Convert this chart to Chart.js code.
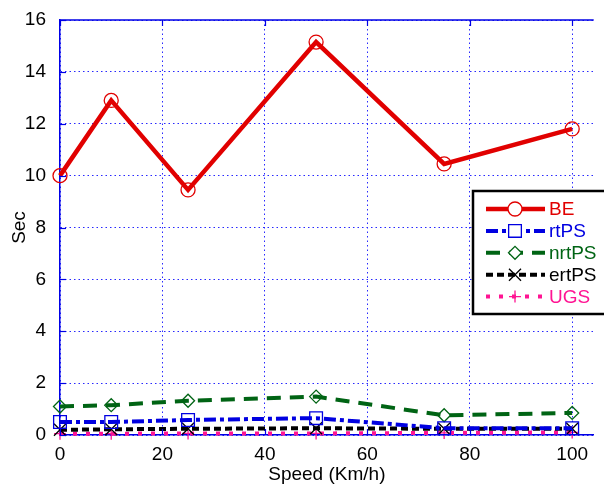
<!DOCTYPE html>
<html>
<head>
<meta charset="utf-8">
<script src="https://cdn.jsdelivr.net/npm/chart.js@4/dist/chart.umd.min.js"></script>
<style>
  html, body { margin: 0; padding: 0; background: #fff; }
  #wrap { width: 604px; height: 484px; }
</style>
</head>
<body>
<div id="wrap"><canvas id="c" width="604" height="484"></canvas></div>
<script>
// Delay per service class versus mobile speed
const speeds = [0, 10, 25, 50, 75, 100];
const beDelay = [10.0, 12.9, 9.45, 15.15, 10.45, 11.8];
const rtpsDelay = [0.5, 0.5, 0.58, 0.65, 0.26, 0.26];
const nrtpsDelay = [1.1, 1.15, 1.32, 1.48, 0.76, 0.85];
const ertpsDelay = [0.2, 0.22, 0.24, 0.26, 0.24, 0.24];
const ugsDelay = [0.05, 0.05, 0.06, 0.06, 0.08, 0.1];
const seriesNames = ['BE', 'rtPS', 'nrtPS', 'ertPS', 'UGS'];
const xTickValues = [0, 20, 40, 60, 80, 100];
const yTickValues = [0, 2, 4, 6, 8, 10, 12, 14, 16];
const xTitle = 'Speed (Km/h)';
const yTitle = 'Sec';

const FONT = "'Liberation Sans', Arial, sans-serif";
const FONT_SIZE = 19;
const AXIS_BLUE = 'rgb(0,0,230)';
const GRID_BLUE = 'rgb(40,40,255)';

const toPts = (ys) => speeds.map((x, i) => ({ x: x, y: ys[i] }));

function series(label, ys, color, width, dash, style, radius) {
  return {
    label: label,
    data: toPts(ys),
    borderColor: color,
    backgroundColor: 'rgba(0,0,0,0)',
    borderWidth: width,
    borderDash: dash,
    pointStyle: style,
    pointRadius: radius,
    pointHoverRadius: radius,
    pointBorderColor: color,
    pointBackgroundColor: 'rgba(0,0,0,0)',
    pointBorderWidth: 1.3,
    tension: 0,
    clip: false
  };
}

const datasets = [
  series(seriesNames[0], beDelay, 'rgb(225,0,0)', 4.5, [], 'circle', 7),
  series(seriesNames[1], rtpsDelay, 'rgb(0,0,225)', 4, [12, 4, 4, 4], 'rect', 9),
  series(seriesNames[2], nrtpsDelay, 'rgb(0,100,20)', 4, [14, 9], 'rectRot', 6.5),
  series(seriesNames[3], ertpsDelay, 'rgb(0,0,0)', 4, [7, 4], 'crossRot', 8.5),
  series(seriesNames[4], ugsDelay, 'rgb(255,20,147)', 4, [4, 9], 'cross', 6)
];

// Frame, inward ticks and the boxed legend inside the plot
const framePlugin = {
  id: 'frame',
  afterDraw(chart) {
    const ctx = chart.ctx;
    const a = chart.chartArea;
    const xs = chart.scales.x, ys = chart.scales.y;
    ctx.save();
    ctx.strokeStyle = AXIS_BLUE;
    ctx.lineWidth = 1.5;
    ctx.setLineDash([]);
    ctx.beginPath();
    ctx.moveTo(a.left, a.top); ctx.lineTo(a.right, a.top);
    ctx.stroke();
    ctx.lineWidth = 1.2;
    ys.ticks.forEach(t => {
      const py = Math.round(ys.getPixelForValue(t.value)) + 0.5;
      ctx.beginPath(); ctx.moveTo(a.left, py); ctx.lineTo(a.left + 6, py); ctx.stroke();
    });
    xs.ticks.forEach(t => {
      const px = Math.round(xs.getPixelForValue(t.value)) + 0.5;
      ctx.beginPath(); ctx.moveTo(px, a.bottom); ctx.lineTo(px, a.bottom - 6); ctx.stroke();
      ctx.beginPath(); ctx.moveTo(px, a.top); ctx.lineTo(px, a.top + 6); ctx.stroke();
    });

    // legend
    const bx = 473, by = 191, bw = 140, bh = 123;
    ctx.fillStyle = '#fff';
    ctx.fillRect(bx, by, bw, bh);
    ctx.strokeStyle = '#000';
    ctx.lineWidth = 2.5;
    ctx.strokeRect(bx, by, bw, bh);
    ctx.font = FONT_SIZE + 'px ' + FONT;
    ctx.textBaseline = 'middle';
    ctx.textAlign = 'left';
    chart.data.datasets.forEach((ds, i) => {
      const y = 209 + i * 21.9;
      ctx.strokeStyle = ds.borderColor;
      ctx.lineWidth = ds.borderWidth;
      ctx.setLineDash(ds.borderDash);
      ctx.beginPath(); ctx.moveTo(486, y); ctx.lineTo(545, y); ctx.stroke();
      ctx.setLineDash([]);
      ctx.fillStyle = '#fff';
      ctx.strokeStyle = ds.borderColor;
      ctx.lineWidth = ds.pointBorderWidth;
      Chart.helpers.drawPoint(ctx, {
        pointStyle: ds.pointStyle,
        radius: ds.pointRadius,
        rotation: 0,
        borderWidth: ds.pointBorderWidth
      }, 515, y);
      ctx.fillStyle = ds.borderColor;
      ctx.fillText(ds.label, 549, y + 1);
    });
    ctx.restore();
  }
};

const tickFont = { family: FONT, size: FONT_SIZE };

new Chart(document.getElementById('c'), {
  type: 'line',
  data: { datasets: datasets },
  options: {
    responsive: false,
    animation: false,
    events: [],
    layout: { padding: { top: 20, right: 0, left: 0, bottom: 0 } },
    plugins: { legend: { display: false }, tooltip: { enabled: false } },
    scales: {
      x: {
        type: 'linear',
        min: 0,
        max: 104.2,
        ticks: { color: '#000', font: tickFont, padding: 8, maxRotation: 0, autoSkip: false },
        afterBuildTicks: (axis) => { axis.ticks = xTickValues.map(v => ({ value: v })); },
        afterFit: (axis) => { axis.height = 49; axis.paddingLeft = 0; axis.paddingRight = 0; },
        grid: { color: GRID_BLUE, lineWidth: 1, drawTicks: false },
        border: { display: true, color: AXIS_BLUE, width: 1.5, dash: [1.5, 3] },
        title: { display: true, text: xTitle, color: '#000', font: { family: FONT, size: FONT_SIZE, lineHeight: 1.0 }, padding: { top: 0, bottom: 0 } }
      },
      y: {
        min: 0,
        max: 16,
        ticks: { color: '#000', font: tickFont, padding: 14, autoSkip: false },
        afterBuildTicks: (axis) => { axis.ticks = yTickValues.map(v => ({ value: v })); },
        afterFit: (axis) => { axis.width = 60; axis.paddingTop = 0; axis.paddingBottom = 0; },
        grid: { color: GRID_BLUE, lineWidth: 1, drawTicks: false },
        border: { display: true, color: AXIS_BLUE, width: 1.5, dash: [1.5, 3] },
        title: { display: true, text: yTitle, color: '#000', font: tickFont, padding: { top: 8, bottom: 0 } }
      }
    }
  },
  plugins: [framePlugin]
});
</script>
</body>
</html>
